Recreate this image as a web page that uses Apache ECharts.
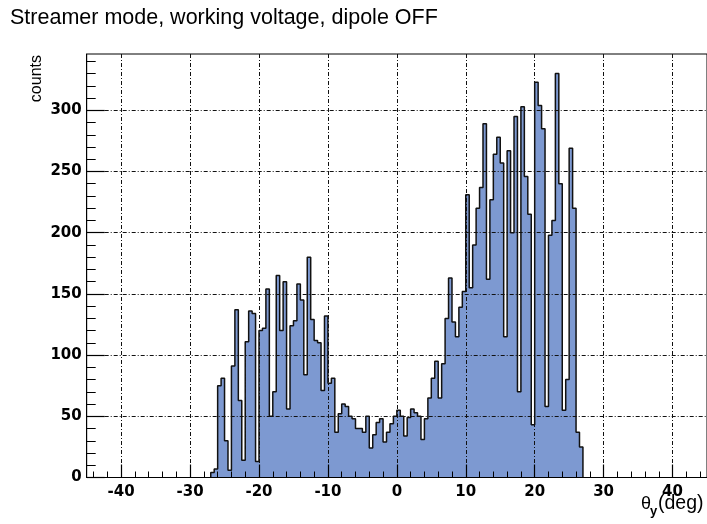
<!DOCTYPE html>
<html>
<head>
<meta charset="utf-8">
<script src="https://cdn.jsdelivr.net/npm/echarts@6/dist/echarts.min.js"></script>
<style>
  html, body { margin: 0; padding: 0; background: #fff; }
  #chart { width: 707px; height: 524px; }
</style>
</head>
<body>
<div id="chart"></div>
<script>
// Histogram of theta_y: 0.5 deg bins starting at -27 deg
const titleText = 'Streamer mode, working voltage, dipole OFF';
const yTitle = 'counts';
const binLow = -27;
const binWidth = 0.5;
const counts = [
  4, 7, 75, 81, 30, 6, 91, 137, 63, 14,
  111, 136, 134, 13, 120, 122, 154, 50, 70, 165,
  120, 160, 56, 124, 128, 158, 145, 84, 180, 129,
  112, 110, 71, 132, 77, 81, 37, 52, 60, 58,
  50, 48, 40, 40, 37, 50, 24, 35, 45, 48,
  29, 37, 44, 50, 55, 50, 34, 49, 56, 53,
  50, 31, 48, 65, 81, 95, 65, 93, 130, 163,
  127, 115, 139, 152, 231, 155, 190, 220, 237, 289,
  162, 227, 264, 278, 257, 115, 267, 200, 295, 70,
  303, 246, 215, 43, 323, 304, 285, 58, 198, 210,
  330, 240, 55, 80, 269, 220, 37, 25
];
const xMajorTicks = [-40, -30, -20, -10, 0, 10, 20, 30, 40];
const xMinorTicks = [-44, -42, -38, -36, -34, -32, -28, -26, -24, -22, -18, -16, -14, -12,
  -8, -6, -4, -2, 2, 4, 6, 8, 12, 14, 16, 18, 22, 24, 26, 28, 32, 34, 36, 38, 42, 44];
const yMajorTicks = [0, 50, 100, 150, 200, 250, 300];
const yMinorTicks = [10, 20, 30, 40, 60, 70, 80, 90, 110, 120, 130, 140, 160, 170, 180, 190,
  210, 220, 230, 240, 260, 270, 280, 290, 310, 320, 330, 340];

// step outline: each bin's left edge with its content, closed at both ends
const outline = [[binLow, 0]];
counts.forEach((c, i) => outline.push([binLow + i * binWidth, c]));
const binHigh = binLow + counts.length * binWidth;
outline.push([binHigh, counts[counts.length - 1]]);
outline.push([binHigh, 0]);

const gridLine = { show: true, lineStyle: { color: '#111', width: 1, type: [4, 2, 1, 2] } };
const tickFont = { fontFamily: 'DejaVu Sans', fontWeight: 'bold', fontSize: 15, color: '#000' };

const chart = echarts.init(document.getElementById('chart'), null, { renderer: 'canvas' });
chart.setOption({
  animation: false,
  backgroundColor: '#fff',
  grid: { left: 86.7, top: 54, right: -6, bottom: 46.5, show: true, borderColor: '#000', borderWidth: 1 },
  xAxis: [
    {
      type: 'value', min: -45, max: 45, position: 'bottom', z: 3,
      axisLine: { onZero: false, lineStyle: { color: '#000', width: 1 } },
      axisTick: { inside: true, length: 13, customValues: xMajorTicks, lineStyle: { color: '#000', width: 1.2 } },
      axisLabel: Object.assign({ customValues: xMajorTicks, margin: 7 }, tickFont),
      splitLine: gridLine
    },
    {
      type: 'value', min: -45, max: 45, position: 'bottom', z: 3,
      axisLine: { show: false, onZero: false },
      axisTick: { inside: true, length: 6, customValues: xMinorTicks, lineStyle: { color: '#000', width: 1 } },
      axisLabel: { show: false },
      splitLine: { show: false }
    }
  ],
  yAxis: [
    {
      type: 'value', min: 0, max: 346, position: 'left', z: 3,
      axisLine: { show: true, onZero: false, lineStyle: { color: '#000', width: 1 } },
      axisTick: { show: true, inside: true, length: 18, customValues: yMajorTicks, lineStyle: { color: '#000', width: 1.2 } },
      axisLabel: Object.assign({ customValues: yMajorTicks, margin: 5 }, tickFont),
      splitLine: gridLine
    },
    {
      type: 'value', min: 0, max: 346, position: 'left', z: 3,
      axisLine: { show: false, onZero: false },
      axisTick: { show: true, inside: true, length: 9, customValues: yMinorTicks, lineStyle: { color: '#000', width: 1 } },
      axisLabel: { show: false },
      splitLine: { show: false }
    }
  ],
  series: [{
    type: 'line',
    xAxisIndex: 0,
    yAxisIndex: 0,
    step: 'end',
    data: outline,
    showSymbol: false,
    symbol: 'none',
    lineStyle: { color: '#111', width: 1.5 },
    areaStyle: { color: '#7d99d1', opacity: 1 },
    z: 2
  }],
  graphic: [
    {
      type: 'text', left: 10, top: 7,
      style: { text: titleText, fontFamily: 'Liberation Sans', fontSize: 21.5, fill: '#000' }
    },
    {
      type: 'text', x: 37, y: 55, rotation: Math.PI / 2,
      style: { text: yTitle, fontFamily: 'Liberation Sans', fontSize: 16, fill: '#000', align: 'right', verticalAlign: 'middle' }
    },
    {
      type: 'text', x: 641, y: 513,
      style: { text: 'θ', fontFamily: 'Liberation Sans', fontSize: 18, fill: '#000', align: 'left', verticalAlign: 'bottom' }
    },
    {
      type: 'text', x: 650, y: 518,
      style: { text: 'y', fontFamily: 'Liberation Sans', fontWeight: 'bold', fontSize: 13, fill: '#000', align: 'left', verticalAlign: 'bottom' }
    },
    {
      type: 'text', x: 658, y: 514,
      style: { text: '(deg)', fontFamily: 'Liberation Sans', fontSize: 19.5, fill: '#000', align: 'left', verticalAlign: 'bottom' }
    }
  ]
});
</script>
</body>
</html>
